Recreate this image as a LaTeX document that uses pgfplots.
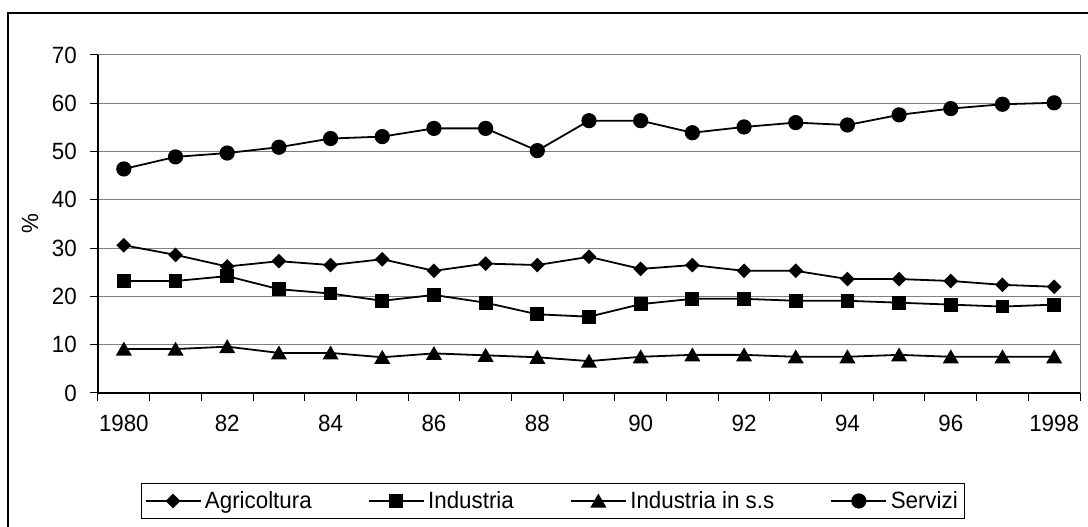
\documentclass[border=0pt]{standalone}
\usepackage{fontspec}
\setmainfont{Liberation Sans}[FakeStretch=0.95]
\usepackage{pgfplots}
\pgfplotsset{compat=1.18}

\definecolor{gridgray}{RGB}{128,128,128}
\newcommand{\chartfont}{\fontsize{23.5}{28}\selectfont}

\begin{document}
\begin{tikzpicture}[x=1pt,y=1pt,font=\chartfont]
\useasboundingbox (0,0) rectangle (1088,527);
% outer chart frame (cropped at right and bottom)
\draw[line width=2pt] (8,-10) -- (8,514) -- (1100,514);

\begin{axis}[
  at={(98pt,134pt)}, anchor=south west,
  scale only axis, width=982pt, height=338pt,
  xmin=1979.5, xmax=1998.5,
  ymin=0, ymax=70,
  ytick={0,10,...,70},
  xtick={1979.5,1980.5,1981.5,1982.5,1983.5,1984.5,1985.5,1986.5,1987.5,1988.5,1989.5,1990.5,1991.5,1992.5,1993.5,1994.5,1995.5,1996.5,1997.5,1998.5},
  xticklabels={},
  extra x ticks={1980,1982,1984,1986,1988,1990,1992,1994,1996,1998},
  extra x tick labels={1980,82,84,86,88,90,92,94,96,1998},
  extra x tick style={major tick length=0pt},
  axis x line*=bottom, axis y line*=left,
  axis line style={line width=1.2pt, black},
  tick align=outside, major tick length=8pt,
  tick style={line width=1pt, black},
  ymajorgrids, grid style={line width=1pt, gridgray},
  /pgf/number format/assume math mode=true,
  tick label style={font=\chartfont},
  yticklabel style={anchor=east, inner sep=0pt, xshift=-13pt},
  xticklabel style={anchor=north, inner sep=0pt, yshift=-22pt},
  ylabel={\%},
  every axis y label/.style={at={(axis description cs:-0.0692,0.5)}, rotate=90, anchor=center, font=\chartfont},
  legend image code/.code={\draw[mark repeat=2, mark phase=2] plot coordinates {(0pt,0pt) (27.5pt,0pt) (55pt,0pt)};},
  legend style={at={(0.4633,-0.3195)}, anchor=center, draw=black, line width=1pt, font=\chartfont,
    legend columns=4, /tikz/every even column/.append style={column sep=52.7pt},
    nodes={inner xsep=3.5pt, inner ysep=6.5pt}},
  clip=false,
]
\addplot[black, line width=1.8pt, mark=square*, mark size=4.3pt, mark options={rotate=45, solid, fill=black}] coordinates {
(1980,30.6) (1981,28.6) (1982,26.2) (1983,27.3) (1984,26.5) (1985,27.7) (1986,25.3) (1987,26.8) (1988,26.5) (1989,28.2)
(1990,25.7) (1991,26.5) (1992,25.3) (1993,25.3) (1994,23.6) (1995,23.6) (1996,23.2) (1997,22.4) (1998,22.0)
};
\addlegendentry{Agricoltura}
\addplot[black, line width=1.8pt, mark=square*, mark size=6pt, mark options={solid, fill=black}] coordinates {
(1980,23.2) (1981,23.2) (1982,24.2) (1983,21.5) (1984,20.6) (1985,19.1) (1986,20.3) (1987,18.7) (1988,16.3) (1989,15.8)
(1990,18.4) (1991,19.5) (1992,19.5) (1993,19.1) (1994,19.1) (1995,18.7) (1996,18.3) (1997,17.9) (1998,18.3)
};
\addlegendentry{Industria}
\addplot[black, line width=1.8pt, mark=triangle*, mark size=7.5pt, mark options={solid, fill=black, yshift=-1.9pt}] coordinates {
(1980,9.1) (1981,9.1) (1982,9.6) (1983,8.3) (1984,8.3) (1985,7.4) (1986,8.2) (1987,7.8) (1988,7.4) (1989,6.6)
(1990,7.5) (1991,7.9) (1992,7.9) (1993,7.5) (1994,7.5) (1995,7.9) (1996,7.5) (1997,7.5) (1998,7.5)
};
\addlegendentry{Industria in s.s}
\addplot[black, line width=1.8pt, mark=*, mark size=6.7pt, mark options={solid, fill=black}] coordinates {
(1980,46.4) (1981,48.9) (1982,49.7) (1983,50.9) (1984,52.7) (1985,53.1) (1986,54.8) (1987,54.8) (1988,50.2) (1989,56.4)
(1990,56.4) (1991,53.9) (1992,55.1) (1993,56.0) (1994,55.5) (1995,57.6) (1996,58.9) (1997,59.8) (1998,60.1)
};
\addlegendentry{Servizi}
\draw[gridgray, line width=1pt] (rel axis cs:1,0) -- (rel axis cs:1,1);
\end{axis}
\end{tikzpicture}
\end{document}
